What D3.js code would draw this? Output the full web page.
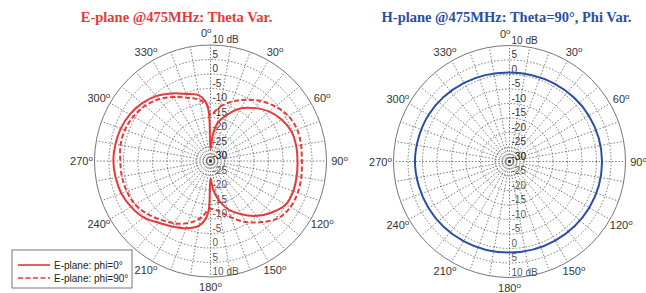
<!DOCTYPE html>
<html lang="en">
<head>
    <meta charset="UTF-8">
    <title>E-plane / H-plane @475MHz</title>
    <script src="https://d3js.org/d3.v7.min.js"></script>
    <style>
        body { margin: 0; background: #fff; }
        svg { display: block; }
        .title { font-family: "Liberation Serif", "Times New Roman", serif; font-weight: bold; font-size: 14.5px; }
        .angle { font-family: "Liberation Sans", Arial, sans-serif; font-size: 11px; fill: #333; }
        .db { font-family: "Liberation Sans", Arial, sans-serif; font-size: 10px; fill: #333; }
        .legend { font-family: "Liberation Sans", Arial, sans-serif; font-size: 10px; fill: #222; }
    </style>
</head>
<body>
<svg id="chart" width="646" height="293"></svg>
<script>
    // E-plane, phi = 0 (solid)
    const thetaSolid = [0, 5, 10, 20, 30, 40, 50, 60, 70, 80, 90, 100, 110, 120, 130, 140, 150, 160, 170, 175,
        180, 182, 185, 190, 200, 210, 220, 230, 240, 250, 260, 270, 280, 290, 300, 310, 320, 330, 340, 350, 355, 358];
    const gainSolid = [-26, -21, -17, -13, -9, -6.2, -3.5, -1.6, -0.3, 0, 0, 0.2, 0.4, 0, -2.4, -5.3, -8.8, -12.3, -17.2, -20.5,
        -24, -13, -9.8, -7.4, -5.3, -3.9, -2.2, 0.2, 1.6, 2.7, 3.2, 3.5, 3.3, 2.9, 2.1, 0.9, -0.8, -3.1, -5.4, -7.0, -9.3, -13];

    // E-plane, phi = 90 (dashed)
    const thetaDashed = [0, 10, 20, 30, 40, 50, 60, 70, 80, 90, 100, 110, 120, 130, 140, 150, 160, 170,
        180, 190, 200, 210, 220, 230, 240, 250, 260, 270, 280, 290, 300, 310, 320, 330, 340, 350, 357];
    const gainDashed = [-14, -11, -8.2, -5.6, -3.0, -0.8, 1.0, 1.8, 1.7, 1.5, 1.8, 2.0, 1.8, 0.6, -2.5, -5.7, -9.3, -12.3,
        -13.5, -10, -7.2, -5.2, -3.5, -1.6, 0.0, 0.7, 1.0, 1.1, 1.5, 1.4, 0.7, -0.5, -2.2, -4.5, -6.8, -8.6, -11];

    // H-plane, theta = 90
    const phiH = [0, 30, 60, 90, 120, 150, 180, 210, 240, 270, 300, 330];
    const gainH = [0.7, 1.0, 1.6, 1.9, 1.8, 1.5, 1.4, 1.7, 2.2, 2.6, 2.2, 1.3];

    const ringValues = [-25, -20, -15, -10, -5, 0, 5];
    const dbLabels = [10, 5, 0, -5, -10, -15, -20, -25, -30];
    const angleTicks = d3.range(0, 360, 30);
    const spokeAngles = d3.range(0, 360, 10);

    const dbMin = -30, dbMax = 10;
    const R = 116;
    const red = "#e8383a", blue = "#2a4ea6";

    const svg = d3.select("#chart");
    const rad = d => d * Math.PI / 180;

    function drawPolar(cx, cy, title, color) {
        const g = svg.append("g").attr("transform", `translate(${cx},${cy})`);
        const r = d3.scaleLinear().domain([dbMin, dbMax]).range([0, R]).clamp(true);

        // spokes
        g.selectAll(".spoke").data(spokeAngles).enter().append("line")
            .attr("x1", 0).attr("y1", 0)
            .attr("x2", d => R * Math.sin(rad(d)))
            .attr("y2", d => -R * Math.cos(rad(d)))
            .attr("stroke", "#444").attr("stroke-width", 0.7)
            .attr("stroke-dasharray", "1.5,1.8");

        // rings
        g.selectAll(".ring").data(ringValues).enter().append("circle")
            .attr("r", d => r(d)).attr("fill", "none")
            .attr("stroke", "#444").attr("stroke-width", 0.7)
            .attr("stroke-dasharray", "1.5,1.8");

        g.append("circle").attr("r", R).attr("fill", "none")
            .attr("stroke", "#777").attr("stroke-width", 1);

        // dB labels, up and down the vertical axis
        [-1, 1].forEach(s => {
            g.selectAll(null).data(dbLabels).enter().append("text")
                .attr("class", "db")
                .attr("x", 2)
                .attr("y", d => s * r(d) - 2)
                .attr("fill-opacity", s > 0 ? 0.85 : 1)
                .text(d => d === 10 ? "10 dB" : d);
        });

        // angle labels (0 sits left of the "10 dB" label)
        const lab = g.selectAll(".angle").data(angleTicks).enter().append("text")
            .attr("class", "angle")
            .attr("text-anchor", d => d === 0 ? "end" : "middle")
            .attr("x", d => d === 0 ? 1 : (R + 13) * Math.sin(rad(d)))
            .attr("y", d => d === 0 ? -(R + 8) : -(R + 10) * Math.cos(rad(d)) + 4);
        lab.append("tspan").text(d => d);
        lab.append("tspan").attr("dy", -4).attr("font-size", 8).text("o");

        svg.append("text").attr("class", "title")
            .attr("x", cx - (color === red ? 34 : 3)).attr("y", 22)
            .attr("text-anchor", "middle").attr("fill", color)
            .text(title);

        return { g, r };
    }

    function trace(p, thetas, gains, color, dash) {
        const pts = thetas.map((t, i) => [rad(t), p.r(gains[i])]);
        const line = d3.lineRadial().curve(d3.curveCatmullRomClosed.alpha(0.5));
        p.g.append("path")
            .attr("d", line(pts))
            .attr("fill", "none")
            .attr("stroke", color)
            .attr("stroke-width", 2)
            .attr("stroke-dasharray", dash || null);
    }

    const left = drawPolar(210.5, 161, "E-plane @475MHz: Theta Var.", red);
    trace(left, thetaSolid, gainSolid, red);
    trace(left, thetaDashed, gainDashed, red, "5,2.5");

    const right = drawPolar(509.5, 161.5, "H-plane @475MHz: Theta=90°, Phi Var.", blue);
    trace(right, phiH, gainH, blue);

    // legend
    const leg = svg.append("g").attr("transform", "translate(12,250)");
    leg.append("rect").attr("width", 120).attr("height", 38)
        .attr("fill", "#fff").attr("stroke", "#777").attr("stroke-width", 1);
    const items = [{ label: "E-plane: phi=0°", dash: null }, { label: "E-plane: phi=90°", dash: "5,2.5" }];
    items.forEach((it, i) => {
        const y = 15 + i * 13;
        leg.append("line").attr("x1", 6).attr("x2", 38).attr("y1", y).attr("y2", y)
            .attr("stroke", red).attr("stroke-width", 1.6)
            .attr("stroke-dasharray", it.dash);
        leg.append("text").attr("class", "legend").attr("x", 42).attr("y", y + 3.5).text(it.label);
    });
</script>
</body>
</html>
